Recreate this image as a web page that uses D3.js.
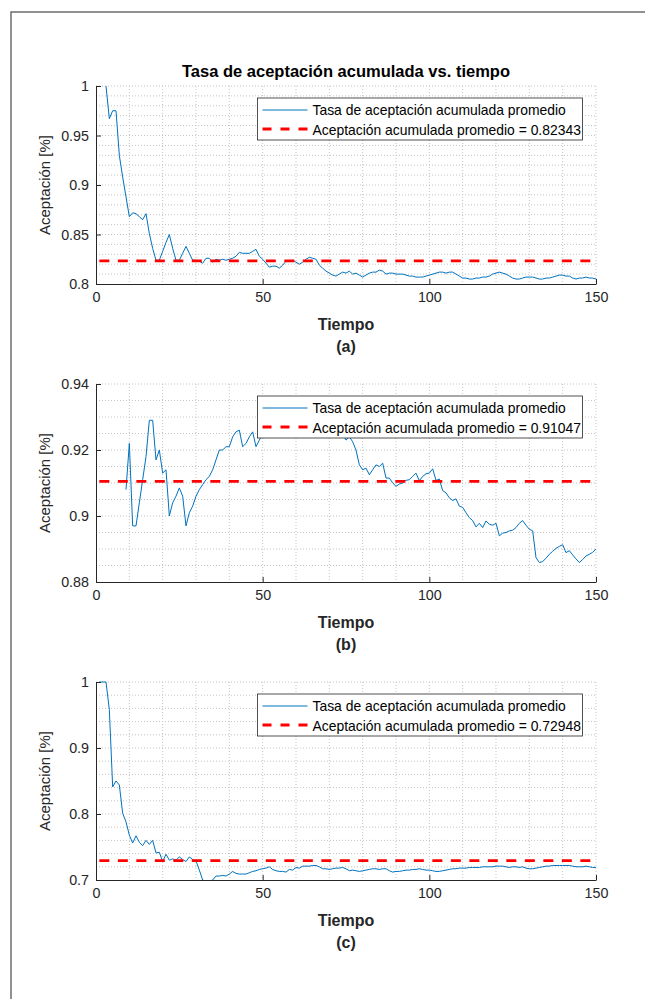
<!DOCTYPE html>
<html>
<head>
<meta charset="utf-8">
<script src="https://cdn.jsdelivr.net/npm/d3@7"></script>
<style>
  body { margin: 0; background: #fff; }
  text { font-family: "Liberation Sans", Arial, sans-serif; }
</style>
</head>
<body>
<svg id="chart"></svg>
<script>
// tiempo 1..150 (un valor por paso)
const tiempo = d3.range(1, 151);
const xTicks = [0, 50, 100, 150];

// (a) tasa de aceptación acumulada
const tasaA = [
  null, null, 1.0, 0.967, 0.975, 0.975, 0.930, 0.908, 0.888, 0.868,
  0.872, 0.871, 0.868, 0.865, 0.871, 0.851, 0.836, 0.824, 0.824, 0.833,
  0.842, 0.850, 0.836, 0.824, 0.824, 0.831, 0.838, 0.831, 0.824, 0.824,
  0.823, 0.821, 0.826, 0.826, 0.822, 0.825, 0.824, 0.825, 0.824, 0.825,
  0.826, 0.828, 0.832, 0.831, 0.831, 0.831, 0.833, 0.835, 0.828, 0.825,
  0.821, 0.817, 0.818, 0.818, 0.816, 0.819, 0.823, 0.823, 0.824, 0.822,
  0.820, 0.822, 0.825, 0.827, 0.826, 0.825, 0.819, 0.816, 0.813, 0.811,
  0.809, 0.808, 0.810, 0.812, 0.811, 0.813, 0.810, 0.811, 0.809, 0.807,
  0.809, 0.811, 0.812, 0.812, 0.814, 0.813, 0.810, 0.811, 0.811, 0.810,
  0.810, 0.810, 0.809, 0.808, 0.808, 0.807, 0.807, 0.807, 0.808, 0.809,
  0.810, 0.811, 0.812, 0.812, 0.811, 0.812, 0.812, 0.810, 0.808, 0.806,
  0.806, 0.805, 0.805, 0.806, 0.806, 0.807, 0.807, 0.808, 0.810, 0.811,
  0.812, 0.811, 0.810, 0.808, 0.806, 0.805, 0.805, 0.806, 0.807, 0.807,
  0.807, 0.806, 0.805, 0.805, 0.806, 0.806, 0.807, 0.808, 0.809, 0.809,
  0.808, 0.808, 0.806, 0.805, 0.806, 0.806, 0.807, 0.806, 0.806, 0.805
];

// (b) empieza en t = 9
const tasaB = [
  null, null, null, null, null, null, null, null, 0.908, 0.922,
  0.897, 0.897, 0.904, 0.911, 0.918, 0.929, 0.929, 0.917, 0.920, 0.913,
  0.914, 0.900, 0.904, 0.906, 0.9085, 0.906, 0.897, 0.901, 0.903, 0.906,
  0.908, 0.9095, 0.911, 0.912, 0.914, 0.917, 0.920, 0.920, 0.921, 0.921,
  0.924, 0.9255, 0.926, 0.921, 0.922, 0.924, 0.9255, 0.921, 0.923, 0.925,
  0.926, 0.928, 0.927, 0.929, 0.930, 0.928, 0.931, 0.930, 0.932, 0.931,
  0.933, 0.932, 0.931, 0.933, 0.932, 0.930, 0.931, 0.929, 0.930, 0.928,
  0.927, 0.928, 0.926, 0.925, 0.923, 0.924, 0.9225, 0.920, 0.9155, 0.914,
  0.9145, 0.9125, 0.914, 0.9155, 0.915, 0.916, 0.9115, 0.9115, 0.910, 0.909,
  0.9097, 0.910, 0.9108, 0.911, 0.912, 0.913, 0.9107, 0.912, 0.9128, 0.913,
  0.9143, 0.9108, 0.9112, 0.9077, 0.907, 0.9055, 0.9047, 0.9052, 0.903, 0.9026,
  0.901, 0.8995, 0.8986, 0.8967, 0.8978, 0.8965, 0.8985, 0.8975, 0.8972, 0.8978,
  0.894, 0.8948, 0.895, 0.8955, 0.8957, 0.8965, 0.8978, 0.8986, 0.8972, 0.896,
  0.8955, 0.8874, 0.8859, 0.8862, 0.8872, 0.8884, 0.8893, 0.8902, 0.8908, 0.8913,
  0.8889, 0.8895, 0.8882, 0.887, 0.8859, 0.8868, 0.8879, 0.8884, 0.889, 0.8900
];

// (c)
const tasaC = [
  1.0, 1.0, 1.0, 0.958, 0.841, 0.850, 0.844, 0.801, 0.788, 0.768,
  0.756, 0.767, 0.757, 0.752, 0.760, 0.754, 0.760, 0.741, 0.742, 0.728,
  0.739, 0.730, 0.732, 0.730, 0.735, 0.731, 0.728, 0.735, 0.731, 0.729,
  0.715, 0.700, 0.698, 0.698, 0.700, 0.706, 0.706, 0.707, 0.706, 0.709,
  0.713, 0.710, 0.709, 0.709, 0.709, 0.711, 0.713, 0.714, 0.716, 0.717,
  0.718, 0.720, 0.716, 0.714, 0.713, 0.713, 0.712, 0.716, 0.715, 0.719,
  0.718, 0.721, 0.721, 0.721, 0.722, 0.722, 0.720, 0.717, 0.717, 0.716,
  0.717, 0.718, 0.718, 0.719, 0.717, 0.714, 0.715, 0.714, 0.713, 0.714,
  0.715, 0.716, 0.717, 0.717, 0.716, 0.717, 0.717, 0.714, 0.712, 0.713,
  0.713, 0.714, 0.715, 0.715, 0.716, 0.716, 0.717, 0.716, 0.715, 0.715,
  0.714, 0.713, 0.713, 0.714, 0.715, 0.716, 0.717, 0.717, 0.718, 0.718,
  0.718, 0.719, 0.719, 0.719, 0.719, 0.720, 0.720, 0.720, 0.720, 0.721,
  0.721, 0.721, 0.720, 0.719, 0.720, 0.720, 0.719, 0.720, 0.718, 0.717,
  0.717, 0.718, 0.719, 0.720, 0.721, 0.721, 0.722, 0.722, 0.722, 0.722,
  0.722, 0.722, 0.721, 0.720, 0.720, 0.720, 0.721, 0.720, 0.719, 0.719
];

const promedios = [0.82343, 0.91047, 0.72948];

const yTicksA = [0.8, 0.85, 0.9, 0.95, 1];
const yTicksB = [0.88, 0.9, 0.92, 0.94];
const yTicksC = [0.7, 0.8, 0.9, 1];
const yLabelsA = ['0.8', '0.85', '0.9', '0.95', '1'];
const yLabelsB = ['0.88', '0.9', '0.92', '0.94'];
const yLabelsC = ['0.7', '0.8', '0.9', '1'];

const W = 645, H = 999;
const left = 96, right = 596, plotH = 198;
const axisColor = '#262626';

const svg = d3.select('#chart')
  .attr('width', W)
  .attr('height', H);

// marco exterior
svg.append('rect')
   .attr('x', 11).attr('y', 12)
   .attr('width', 700).attr('height', 1000)
   .attr('fill', 'none')
   .attr('stroke', '#6e6e6e')
   .attr('stroke-width', 1.5);

const panels = [
  { top: 86,  values: tasaA, mean: promedios[0], domain: [0.8, 1],    ticks: yTicksA, labels: yLabelsA, minor: 0.01,  tag: '(a)' },
  { top: 384, values: tasaB, mean: promedios[1], domain: [0.88, 0.94], ticks: yTicksB, labels: yLabelsB, minor: 0.005, tag: '(b)' },
  { top: 682, values: tasaC, mean: promedios[2], domain: [0.7, 1],    ticks: yTicksC, labels: yLabelsC, minor: 0.02,  tag: '(c)' }
];

panels.forEach((p, k) => {
  const x = d3.scaleLinear().domain([0, 150]).range([left, right]);
  const y = d3.scaleLinear().domain(p.domain).range([p.top + plotH, p.top]);
  const g = svg.append('g');

  // grid (dotted, major + minor)
  const nY = Math.round((p.domain[1] - p.domain[0]) / p.minor);
  const yGrid = d3.range(1, nY + 1).map(i => p.domain[0] + i * p.minor);
  const xGrid = d3.range(10, 151, 10);
  g.selectAll('.gx').data(xGrid).enter().append('line')
   .attr('x1', d => x(d)).attr('x2', d => x(d))
   .attr('y1', p.top).attr('y2', p.top + plotH)
   .attr('stroke', '#c4c4c4').attr('stroke-width', 1)
   .attr('stroke-dasharray', '1,2');
  g.selectAll('.gy').data(yGrid).enter().append('line')
   .attr('x1', left).attr('x2', right)
   .attr('y1', d => y(d)).attr('y2', d => y(d))
   .attr('stroke', '#c4c4c4').attr('stroke-width', 1)
   .attr('stroke-dasharray', '1,2');

  // clip
  const clipId = 'clip' + k;
  svg.append('clipPath').attr('id', clipId)
     .append('rect')
     .attr('x', left).attr('y', p.top - 1)
     .attr('width', right - left).attr('height', plotH + 1);

  const line = d3.line()
    .defined(d => d[1] !== null)
    .x(d => x(d[0]))
    .y(d => y(d[1]));

  g.append('path')
   .datum(tiempo.map((t, i) => [t, p.values[i]]))
   .attr('clip-path', `url(#${clipId})`)
   .attr('fill', 'none')
   .attr('stroke', '#0072BD')
   .attr('stroke-width', 1)
   .attr('d', line);

  g.append('line')
   .attr('x1', x(1)).attr('x2', x(150))
   .attr('y1', y(p.mean)).attr('y2', y(p.mean))
   .attr('stroke', '#ff0000')
   .attr('stroke-width', 2.8)
   .attr('stroke-dasharray', '10,8.5');

  // axes
  const xAxis = g.append('g')
    .attr('transform', `translate(0,${p.top + plotH})`)
    .call(d3.axisBottom(x).tickValues(xTicks).tickSizeInner(-5).tickSizeOuter(0).tickPadding(8));
  const yAxis = g.append('g')
    .attr('transform', `translate(${left},0)`)
    .call(d3.axisLeft(y).tickValues(p.ticks).tickFormat((d, i) => p.labels[i])
      .tickSizeInner(-5).tickSizeOuter(0).tickPadding(7));
  [xAxis, yAxis].forEach(a => {
    a.select('.domain').attr('stroke', axisColor).attr('stroke-width', 1);
    a.selectAll('.tick line').attr('stroke', axisColor);
    a.selectAll('.tick text')
     .attr('fill', axisColor)
     .style('font-size', '14.3px')
     .style('font-family', '"Liberation Sans", Arial, sans-serif');
  });

  // labels
  g.append('text')
   .attr('transform', `translate(50,${p.top + plotH / 2}) rotate(-90)`)
   .attr('text-anchor', 'middle')
   .attr('fill', axisColor)
   .style('font-size', '15px')
   .text('Aceptación [%]');

  g.append('text')
   .attr('x', (left + right) / 2).attr('y', p.top + plotH + 46)
   .attr('text-anchor', 'middle')
   .attr('fill', axisColor)
   .style('font-size', '16px').style('font-weight', 'bold')
   .text('Tiempo');

  g.append('text')
   .attr('x', (left + right) / 2).attr('y', p.top + plotH + 68)
   .attr('text-anchor', 'middle')
   .attr('fill', axisColor)
   .style('font-size', '16px').style('font-weight', 'bold')
   .text(p.tag);

  if (k === 0) {
    g.append('text')
     .attr('x', (left + right) / 2).attr('y', p.top - 9)
     .attr('text-anchor', 'middle')
     .attr('fill', '#000')
     .style('font-size', '16.5px').style('font-weight', 'bold')
     .text('Tasa de aceptación acumulada vs. tiempo');
  }

  // legend
  const lx = 257.5, ly = p.top + 12;
  const leg = g.append('g');
  leg.append('rect')
     .attr('x', lx).attr('y', ly)
     .attr('width', 325).attr('height', 42)
     .attr('fill', '#fff')
     .attr('stroke', axisColor).attr('stroke-width', 0.8);
  leg.append('line')
     .attr('x1', lx + 5).attr('x2', lx + 50)
     .attr('y1', ly + 12).attr('y2', ly + 12)
     .attr('stroke', '#0072BD').attr('stroke-width', 1);
  leg.append('line')
     .attr('x1', lx + 5).attr('x2', lx + 50)
     .attr('y1', ly + 31).attr('y2', ly + 31)
     .attr('stroke', '#ff0000').attr('stroke-width', 2.8)
     .attr('stroke-dasharray', '9,9');
  leg.append('text')
     .attr('x', lx + 55).attr('y', ly + 17)
     .style('font-size', '13.9px')
     .text('Tasa de aceptación acumulada promedio');
  leg.append('text')
     .attr('x', lx + 55).attr('y', ly + 36.5)
     .style('font-size', '13.9px')
     .text('Aceptación acumulada promedio = ' + p.mean);
});
</script>
</body>
</html>
